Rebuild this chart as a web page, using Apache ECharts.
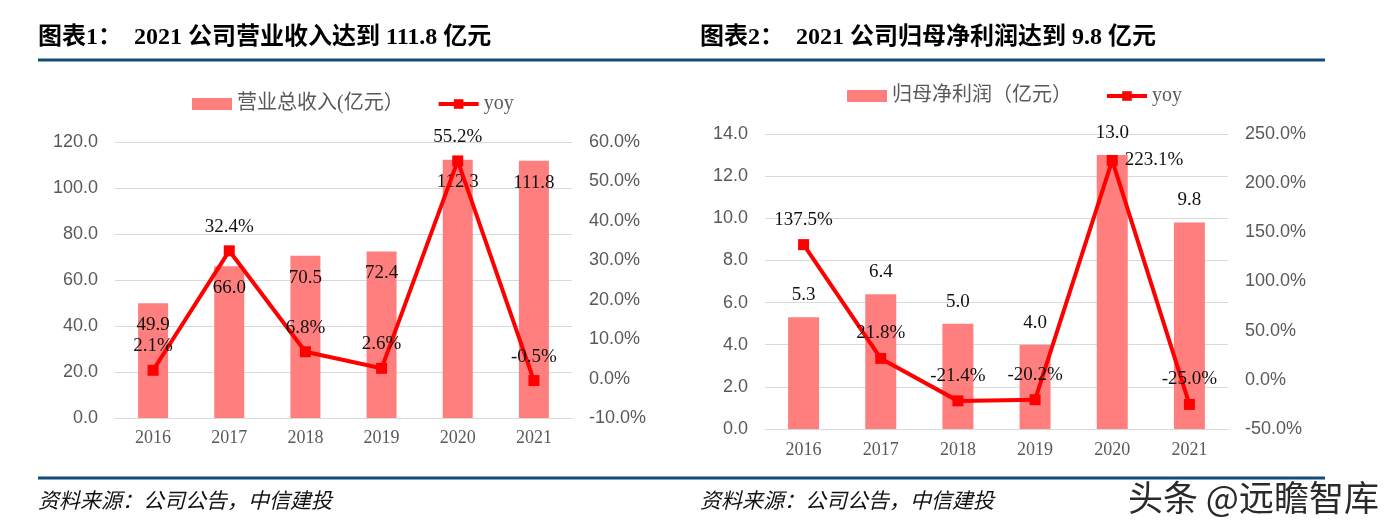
<!DOCTYPE html>
<html>
<head>
<meta charset="utf-8">
<script src="https://cdn.jsdelivr.net/npm/echarts@6/dist/echarts.min.js"></script>
<style>
html,body{margin:0;padding:0;background:#fff;}
#c{width:1384px;height:532px;}
</style>
</head>
<body>
<div id="c"></div>
<script>
// ---- data ----
const categories = ['2016', '2017', '2018', '2019', '2020', '2021'];
const revenue = [49.9, 66.0, 70.5, 72.4, 112.3, 111.8];
const revenueYoy = [2.1, 32.4, 6.8, 2.6, 55.2, -0.5];
const profit = [5.3, 6.4, 5.0, 4.0, 13.0, 9.8];
const profitYoy = [137.5, 21.8, -21.4, -20.2, 223.1, -25.0];
const revenueName = '营业总收入(亿元）';
const profitName = '归母净利润（亿元）';
const yoyName = 'yoy';
const title1 = '图表1：  2021 公司营业收入达到 111.8 亿元';
const title2 = '图表2：  2021 公司归母净利润达到 9.8 亿元';
const sourceText = '资料来源：公司公告，中信建投';
const watermark = '头条 @远瞻智库';

// ---- styles ----
const BAR = '#FF7F7F';
const RED = '#FF0000';
const GREY = '#595959';
const GRIDC = '#D9D9D9';
const SERIF = "'Liberation Serif', 'Noto Sans CJK SC', serif";
const SANS = "'Liberation Sans', Arial, sans-serif";
const MIX = "'Liberation Serif', 'Noto Sans CJK SC', serif";

const chart = echarts.init(document.getElementById('c'), null, {renderer: 'canvas'});

const valLabel = {fontFamily: SERIF, fontSize: 19, color: '#111'};

function xAxis(gi, margin) {
  return {
    type: 'category', gridIndex: gi, data: categories,
    axisLine: {onZero: false, lineStyle: {color: GRIDC, width: 1}},
    axisTick: {show: false},
    axisLabel: {color: GREY, fontFamily: SERIF, fontSize: 18, margin: margin}
  };
}
function yLeft(gi, min, max, interval) {
  return {
    type: 'value', gridIndex: gi, position: 'left', min: min, max: max, interval: interval,
    axisLine: {show: false}, axisTick: {show: false},
    axisLabel: {color: GREY, fontFamily: SANS, fontSize: 18, margin: 17,
      formatter: v => v.toFixed(1)},
    splitLine: {show: true, lineStyle: {color: GRIDC, width: 1}}
  };
}
function yRight(gi, min, max, interval) {
  return {
    type: 'value', gridIndex: gi, position: 'right', min: min, max: max, interval: interval,
    axisLine: {show: false}, axisTick: {show: false},
    axisLabel: {color: GREY, fontFamily: SANS, fontSize: 18, margin: 17,
      formatter: v => v.toFixed(1) + '%'},
    splitLine: {show: false}
  };
}

function barSeries(name, data, xi, yi, width, pos) {
  return {
    name: name, type: 'bar', xAxisIndex: xi, yAxisIndex: yi, data: data,
    barWidth: width, itemStyle: {color: BAR}, z: 2,
    label: Object.assign({show: true, position: pos, distance: 12.5,
      formatter: p => p.value.toFixed(1)}, valLabel)
  };
}
function lineSeries(data, xi, yi, dist, overrides) {
  return {
    name: yoyName, type: 'line', xAxisIndex: xi, yAxisIndex: yi,
    data: data.map((v, i) => overrides && overrides[i] ? {value: v, label: overrides[i]} : v),
    symbol: 'rect', symbolSize: 11, z: 3,
    lineStyle: {color: RED, width: 4},
    itemStyle: {color: RED},
    label: Object.assign({show: true, position: 'top', distance: dist,
      formatter: p => p.value.toFixed(1) + '%'}, valLabel)
  };
}

function legend(left, top, barName) {
  return {
    left: left, top: top, padding: 0, itemGap: 33, itemWidth: 40, itemHeight: 12,
    textStyle: {color: GREY, fontFamily: MIX, fontSize: 20, padding: [0, 0, 0, 0]},
    data: [
      {name: barName, icon: 'rect', itemStyle: {color: BAR}},
      {name: yoyName, lineStyle: {width: 4, color: RED}, itemStyle: {color: RED}}
    ]
  };
}

const option = {
  backgroundColor: '#fff',
  animation: false,
  legend: [legend(192, 94, revenueName), legend(847, 86, profitName)],
  grid: [
    {left: 115, top: 142, width: 457, height: 276, containLabel: false},
    {left: 765, top: 134, width: 463, height: 295, containLabel: false}
  ],
  xAxis: [xAxis(0, 11), xAxis(1, 12)],
  yAxis: [
    yLeft(0, 0, 120, 20), yRight(0, -10, 60, 10),
    yLeft(1, 0, 14, 2), yRight(1, -50, 250, 50)
  ],
  series: [
    barSeries(revenueName, revenue, 0, 0, 30, 'insideTop'),
    lineSeries(revenueYoy, 0, 1, 9),
    barSeries(profitName, profit, 1, 2, 31, 'top'),
    lineSeries(profitYoy, 1, 3, 10, {4: {position: 'right', distance: 7}})
  ],
  graphic: [
    {type: 'text', x: 38, y: 38, style: {text: title1, font: "bold 24px " + MIX, fill: '#000', verticalAlign: 'middle'}},
    {type: 'text', x: 700, y: 38, style: {text: title2, font: "bold 24px " + MIX, fill: '#000', verticalAlign: 'middle'}},
    {type: 'rect', shape: {x: 38, y: 58.5, width: 1287, height: 3}, style: {fill: '#124E78'}},
    {type: 'rect', shape: {x: 38, y: 476.5, width: 1287, height: 3}, style: {fill: '#124E78'}},
    {type: 'text', x: 38, y: 500, style: {text: sourceText, font: "italic 21px 'Noto Sans CJK SC'", fill: '#111', verticalAlign: 'middle'}},
    {type: 'text', x: 700, y: 500, style: {text: sourceText, font: "italic 21px 'Noto Sans CJK SC'", fill: '#111', verticalAlign: 'middle'}},
    {type: 'text', x: 1128, y: 498, style: {text: watermark, font: "35px 'Noto Sans CJK SC'", fill: '#2a2a2a', stroke: '#fff', lineWidth: 2, verticalAlign: 'middle'}}
  ]
};
chart.setOption(option);
</script>
</body>
</html>
